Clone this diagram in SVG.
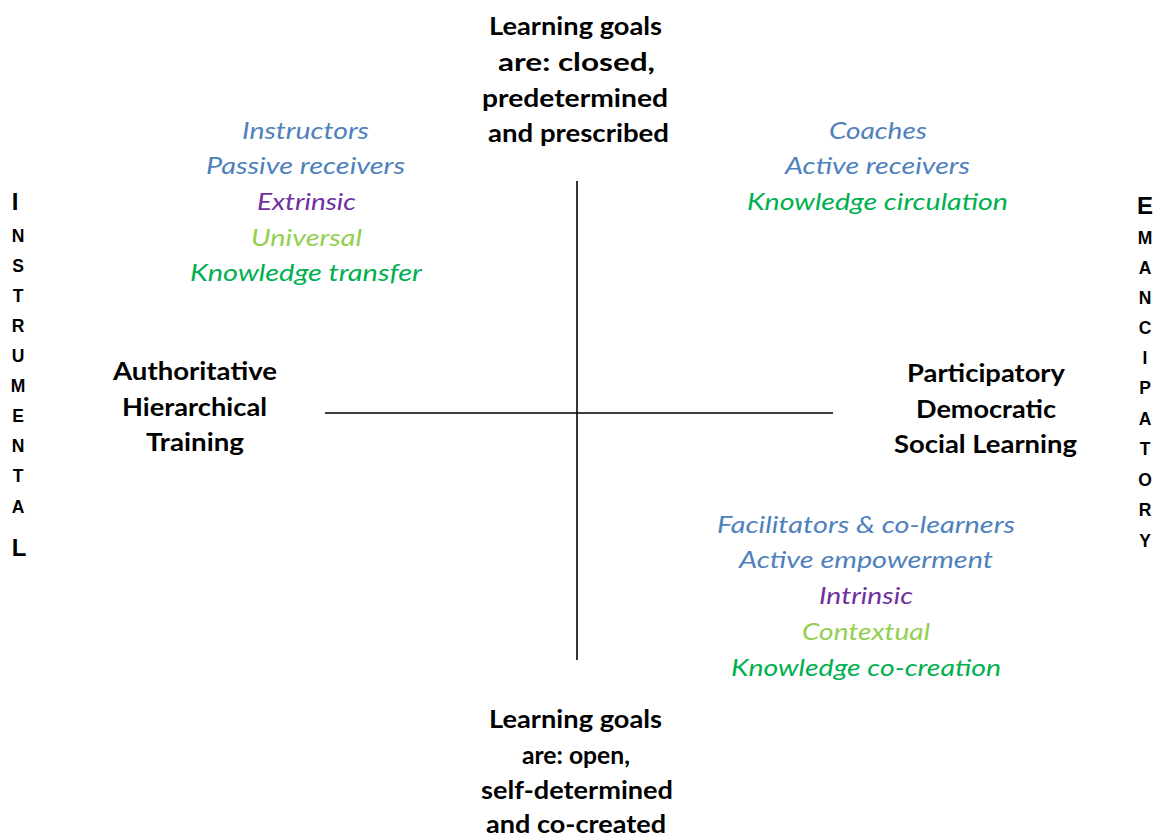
<svg xmlns="http://www.w3.org/2000/svg" width="1158" height="837" viewBox="0 0 1158 837">
<style>
.t{font-family:Lato,"Open Sans","Noto Sans",sans-serif;font-size:24px;text-anchor:middle}
.b{font-weight:bold;fill:#000}
.i{font-style:italic}
.blue{fill:#4F81BD}
.purple{fill:#7030A0}
.lg{fill:#92D050}
.g{fill:#00B050}
.v{font-family:"Liberation Sans",Arial,sans-serif;font-weight:bold;font-size:17.5px;fill:#000;text-anchor:middle}
.vb{font-size:24px}
.ax{stroke:#000;stroke-width:1.6;fill:none}
</style>
<rect width="1158" height="837" fill="#fff"/>
<g id="connectors">
<line class="ax" x1="577" y1="181" x2="577" y2="660"/>
<line class="ax" x1="325" y1="413" x2="833" y2="413"/>
</g>
<g id="top-goals" class="t b">
<text x="575.5" y="35" textLength="173" lengthAdjust="spacingAndGlyphs">Learning goals</text>
<text x="576.5" y="71" textLength="157" lengthAdjust="spacingAndGlyphs">are: closed,</text>
<text x="575" y="107" textLength="186" lengthAdjust="spacingAndGlyphs">predetermined</text>
<text x="578.5" y="142" textLength="181" lengthAdjust="spacingAndGlyphs">and prescribed</text>
</g>
<g id="bottom-goals" class="t b">
<text x="575.5" y="728" textLength="173" lengthAdjust="spacingAndGlyphs">Learning goals</text>
<text x="576" y="764" textLength="108" lengthAdjust="spacingAndGlyphs">are: open,</text>
<text x="577" y="799" textLength="192" lengthAdjust="spacingAndGlyphs">self-determined</text>
<text x="576" y="833" textLength="180" lengthAdjust="spacingAndGlyphs">and co-created</text>
</g>
<g id="left-pole" class="t b">
<text x="195" y="380" textLength="164" lengthAdjust="spacingAndGlyphs">Authoritative</text>
<text x="194.5" y="416" textLength="145" lengthAdjust="spacingAndGlyphs">Hierarchical</text>
<text x="195" y="451" textLength="98" lengthAdjust="spacingAndGlyphs">Training</text>
</g>
<g id="right-pole" class="t b">
<text x="986" y="382" textLength="158" lengthAdjust="spacingAndGlyphs">Participatory</text>
<text x="986" y="418" textLength="140" lengthAdjust="spacingAndGlyphs">Democratic</text>
<text x="985.5" y="453" textLength="183" lengthAdjust="spacingAndGlyphs">Social Learning</text>
</g>
<g id="top-left-quadrant" class="t i">
<text class="blue" x="305.5" y="139" textLength="127" lengthAdjust="spacingAndGlyphs">Instructors</text>
<text class="blue" x="305.5" y="174" textLength="199" lengthAdjust="spacingAndGlyphs">Passive receivers</text>
<text class="purple" x="306.5" y="210" textLength="99" lengthAdjust="spacingAndGlyphs">Extrinsic</text>
<text class="lg" x="306.5" y="246" textLength="111" lengthAdjust="spacingAndGlyphs">Universal</text>
<text class="g" x="306" y="281" textLength="232" lengthAdjust="spacingAndGlyphs">Knowledge transfer</text>
</g>
<g id="top-right-quadrant" class="t i">
<text class="blue" x="878" y="139" textLength="98" lengthAdjust="spacingAndGlyphs">Coaches</text>
<text class="blue" x="877.5" y="174" textLength="185" lengthAdjust="spacingAndGlyphs">Active receivers</text>
<text class="g" x="877.5" y="210" textLength="261" lengthAdjust="spacingAndGlyphs">Knowledge circulation</text>
</g>
<g id="bottom-right-quadrant" class="t i">
<text class="blue" x="866" y="533" textLength="298" lengthAdjust="spacingAndGlyphs">Facilitators &amp; co-learners</text>
<text class="blue" x="866" y="568" textLength="254" lengthAdjust="spacingAndGlyphs">Active empowerment</text>
<text class="purple" x="866" y="604" textLength="94" lengthAdjust="spacingAndGlyphs">Intrinsic</text>
<text class="lg" x="866" y="640" textLength="128" lengthAdjust="spacingAndGlyphs">Contextual</text>
<text class="g" x="866" y="676" textLength="270" lengthAdjust="spacingAndGlyphs">Knowledge co-creation</text>
</g>
<g id="instrumental" class="v">
<text class="vb" x="15" y="210">I</text>
<text x="18" y="242">N</text>
<text x="18" y="272">S</text>
<text x="18" y="302">T</text>
<text x="18" y="332">R</text>
<text x="18" y="362">U</text>
<text x="18" y="392">M</text>
<text x="18" y="422">E</text>
<text x="18" y="452">N</text>
<text x="18" y="482">T</text>
<text x="18" y="513">A</text>
<text class="vb" x="19" y="556">L</text>
</g>
<g id="emancipatory" class="v">
<text class="vb" x="1145" y="214">E</text>
<text x="1145" y="244">M</text>
<text x="1145" y="274">A</text>
<text x="1145" y="304">N</text>
<text x="1145" y="334">C</text>
<text x="1145" y="364">I</text>
<text x="1145" y="394">P</text>
<text x="1145" y="425">A</text>
<text x="1145" y="455">T</text>
<text x="1145" y="486">O</text>
<text x="1145" y="516">R</text>
<text x="1145" y="547">Y</text>
</g>
</svg>
